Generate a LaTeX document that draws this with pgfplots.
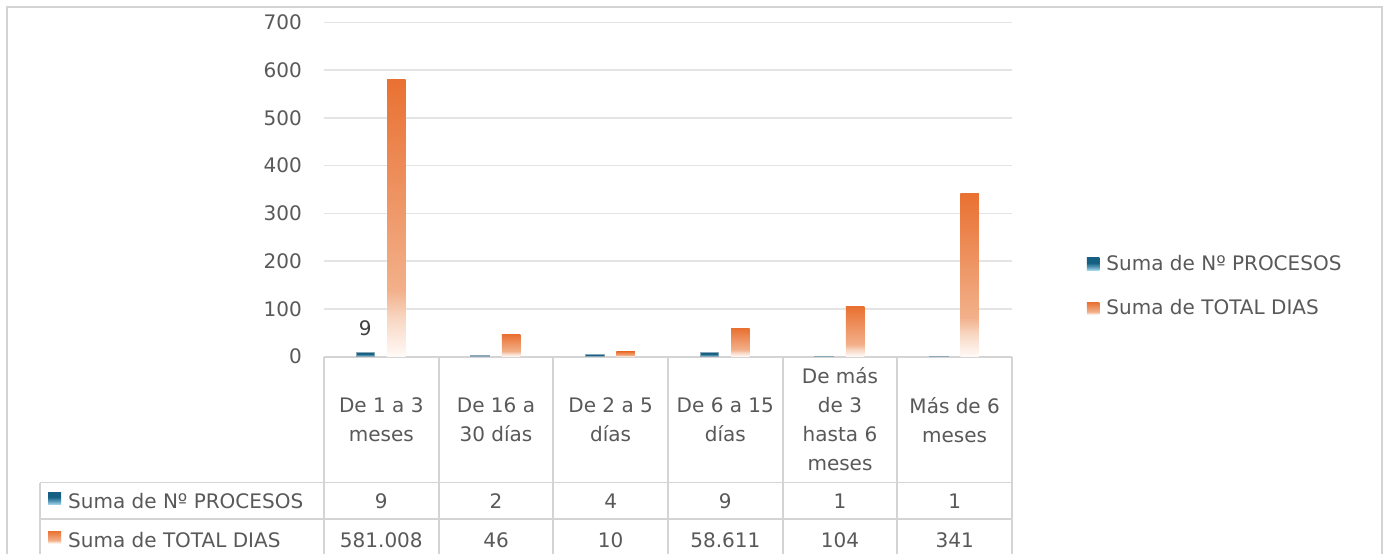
\documentclass[border=0pt]{standalone}
\usepackage{fontspec}
\setmainfont{DejaVu Sans}
\usepackage{pgfplots}
\pgfplotsset{compat=1.18}
\definecolor{orA}{HTML}{E97132}
\definecolor{orB}{HTML}{F2B08A}
\definecolor{orC}{HTML}{F8D6C2}
\definecolor{orD}{HTML}{FFFAF7}
\definecolor{blA}{HTML}{156082}
\definecolor{blB}{HTML}{5B9CBB}
\definecolor{blC}{HTML}{A8D8EE}
\definecolor{blE}{HTML}{8AA8B8}
\definecolor{txt}{HTML}{595959}
\definecolor{lbl}{HTML}{404040}
\definecolor{gridc}{HTML}{E4E4E4}
\definecolor{tline}{HTML}{D4D4D4}
\pgfdeclareverticalshading{orbar}{100bp}{color(0bp)=(orD); color(25bp)=(orD); color(32bp)=(orC); color(37bp)=(orB); color(75bp)=(orA); color(100bp)=(orA)}
\pgfdeclareverticalshading{blbar}{100bp}{color(0bp)=(blC); color(25bp)=(blC); color(38bp)=(blB); color(55bp)=(blA); color(100bp)=(blA)}
\newcommand{\ff}{\fontsize{20}{29}\selectfont}
\pgfplotsset{
  blb/.style={ybar, bar width=18.5pt, bar shift=-16pt, draw=blE, line width=0.8pt, shade, shading=blbar},
  orb/.style={ybar, bar width=18.5pt, bar shift=15pt, draw=none, shade, shading=orbar},
}
\begin{document}
\begin{tikzpicture}[x=1pt,y=1pt]
\useasboundingbox (0,0) rectangle (1387,-554);
\fill[white] (0,0) rectangle (1387,-554);
\draw[tline, line width=1.2pt] (7,-560) -- (7,-7) -- (1382,-7) -- (1382,-560);
% data table: lines
\begin{scope}[tline, line width=1.8pt]
\draw (324,-357.2) -- (1012,-357.2);
\draw (40,-482.5) -- (1012,-482.5);
\draw (40,-519) -- (1012,-519);
\draw (40,-482.5) -- (40,-560);
\foreach \x in {324,438.67,553.33,668,782.67,897.33,1012} {\draw (\x,-357.2) -- (\x,-560);}
\end{scope}
\begin{axis}[
  at={(324pt,-356.5pt)}, anchor=south west,
  scale only axis, width=688pt, height=334pt,
  xmin=-0.5, xmax=5.5, ymin=0, ymax=700,
  ytick={100,200,...,700}, extra y ticks={0}, extra y tick style={grid=none},
  xtick=\empty,
  axis line style={draw=none},
  ymajorgrids, major grid style={gridc, line width=1.5pt},
  tick style={draw=none},
  /pgf/number format/assume math mode=true,
  yticklabel style={font=\ff, text=txt, anchor=east, inner sep=0pt, xshift=-22pt},
  clip=false,
  legend style={at={(1.1090,0.3016)}, anchor=north west, draw=none, fill=none,
    inner sep=0pt, outer sep=0pt, row sep=25.9pt, column sep=7pt,
    nodes={inner sep=0pt, outer sep=0pt, text height=14.6pt, text depth=4pt,
      text=txt, font=\ff, anchor=base west}},
  legend cell align=left,
  legend image code/.code={\path[#1, draw=none] (0pt,0pt) rectangle (12.5pt,12.5pt);},
]
% Suma de Nº PROCESOS (one bar per plot so that each bar gets its own gradient)
\addplot[blb] coordinates {(0,9)};
\addlegendentry{Suma de Nº PROCESOS}
\addplot[blb, forget plot] coordinates {(1,2)};
\addplot[blb, forget plot] coordinates {(2,4)};
\addplot[blb, forget plot] coordinates {(3,9)};
\addplot[blb, forget plot] coordinates {(4,1)};
\addplot[blb, forget plot] coordinates {(5,1)};
% Suma de TOTAL DIAS
\addplot[orb] coordinates {(0,581.008)};
\addlegendentry{Suma de TOTAL DIAS}
\addplot[orb, forget plot] coordinates {(1,46)};
\addplot[orb, forget plot] coordinates {(2,10)};
\addplot[orb, forget plot] coordinates {(3,58.611)};
\addplot[orb, forget plot] coordinates {(4,104)};
\addplot[orb, forget plot] coordinates {(5,341)};
\addplot[draw=none, mark=none, forget plot, point meta=explicit symbolic,
  nodes near coords, nodes near coords style={anchor=base, xshift=-16pt, yshift=17pt, text=lbl, font=\ff}]
  coordinates {(0,9) [9]};
\end{axis}
% data table: texts
\begin{scope}[every node/.style={font=\ff, text=txt, inner sep=0pt, align=center}]
\node at (381.33,-419.9) {De 1 a 3\\meses};
\node at (496,-419.9) {De 16 a\\30 días};
\node at (610.67,-419.9) {De 2 a 5\\días};
\node at (725.33,-419.9) {De 6 a 15\\días};
\node at (840,-418.9) {De más\\de 3\\hasta 6\\meses};
\node at (954.67,-419.9) {Más de 6\\meses};
\foreach \x/\v in {381.33/9,496/2,610.67/4,725.33/9,840/1,954.67/1} {\node[anchor=base] at (\x,-508.5) {\v};}
\foreach \x/\v in {381.33/581.008,496/46,610.67/10,725.33/58.611,840/104,954.67/341} {\node[anchor=base] at (\x,-547) {\v};}
\node[anchor=base west] at (68,-508.5) {Suma de Nº PROCESOS};
\node[anchor=base west] at (68,-547) {Suma de TOTAL DIAS};
\end{scope}
\shade[shading=blbar] (48,-504.5) rectangle (61,-492);
\shade[shading=orbar] (48,-543.5) rectangle (61,-531);
\end{tikzpicture}
\end{document}
